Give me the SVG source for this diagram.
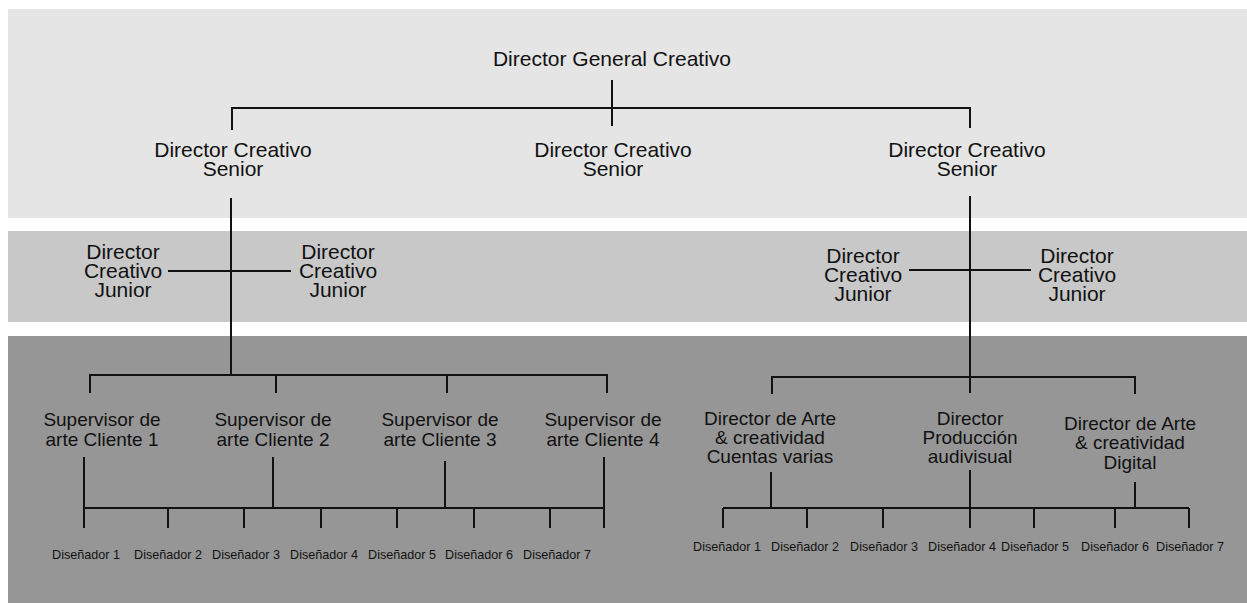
<svg xmlns="http://www.w3.org/2000/svg" width="1247" height="603" viewBox="0 0 1247 603">
<style>
text{font-family:"Liberation Sans",Arial,sans-serif;fill:#111;text-anchor:middle}
.t1{font-size:21px}
.t2{font-size:19px}
.t3{font-size:12.6px}
.ln{fill:none;stroke:#111;stroke-width:2}
</style>
<rect x="0" y="0" width="1247" height="603" fill="#ffffff"/>
<g id="bands">
<rect x="8" y="9" width="1239" height="209" fill="#e5e5e5"/>
<rect x="8" y="231" width="1239" height="91" fill="#c8c8c8"/>
<rect x="8" y="336" width="1239" height="267" fill="#969696"/>
</g>
<g id="connectors" class="ln">
<path d="M612 80V126"/>
<path d="M232 130V108H970V128"/>
<path d="M231 198V375"/>
<path d="M168 271H291"/>
<path d="M90 393V375H607V393M276 375V393M447 375V393"/>
<path d="M84 457V528M273 457V508M445 461V508M604 457V528M84 508H604"/>
<path d="M168 508V528M244 508V528M321 508V528M397 508V528M474 508V528M550 508V528"/>
<path d="M970 196V393"/>
<path d="M909 270H1031"/>
<path d="M772 394V377H1135V394"/>
<path d="M771 472V508M970 470V528M1135 482V508M723 508H1189"/>
<path d="M723 508V528M807 508V528M883 508V528M1034 508V528M1115 508V528M1189 508V528"/>
</g>
<g id="n-dgc"><text class="t1" x="612" y="66">Director General Creativo</text></g>
<g id="n-dcs1"><text class="t1" x="233" y="157">Director Creativo</text><text class="t1" x="233" y="176">Senior</text></g>
<g id="n-dcs2"><text class="t1" x="613" y="157">Director Creativo</text><text class="t1" x="613" y="176">Senior</text></g>
<g id="n-dcs3"><text class="t1" x="967" y="157">Director Creativo</text><text class="t1" x="967" y="176">Senior</text></g>
<g id="n-dcj1"><text class="t1" x="123" y="259">Director</text><text class="t1" x="123" y="278">Creativo</text><text class="t1" x="123" y="297">Junior</text></g>
<g id="n-dcj2"><text class="t1" x="338" y="259">Director</text><text class="t1" x="338" y="278">Creativo</text><text class="t1" x="338" y="297">Junior</text></g>
<g id="n-dcj3"><text class="t1" x="863" y="263">Director</text><text class="t1" x="863" y="282">Creativo</text><text class="t1" x="863" y="301">Junior</text></g>
<g id="n-dcj4"><text class="t1" x="1077" y="263">Director</text><text class="t1" x="1077" y="282">Creativo</text><text class="t1" x="1077" y="301">Junior</text></g>
<g id="n-sup1"><text class="t2" x="102" y="426">Supervisor de</text><text class="t2" x="102" y="446">arte Cliente 1</text></g>
<g id="n-sup2"><text class="t2" x="273" y="426">Supervisor de</text><text class="t2" x="273" y="446">arte Cliente 2</text></g>
<g id="n-sup3"><text class="t2" x="440" y="426">Supervisor de</text><text class="t2" x="440" y="446">arte Cliente 3</text></g>
<g id="n-sup4"><text class="t2" x="603" y="426">Supervisor de</text><text class="t2" x="603" y="446">arte Cliente 4</text></g>
<g id="n-da1"><text class="t2" x="770" y="425">Director de Arte</text><text class="t2" x="770" y="444">&amp; creatividad</text><text class="t2" x="770" y="463">Cuentas varias</text></g>
<g id="n-dpa"><text class="t2" x="970" y="425">Director</text><text class="t2" x="970" y="444">Producción</text><text class="t2" x="970" y="463">audivisual</text></g>
<g id="n-da2"><text class="t2" x="1130" y="430">Director de Arte</text><text class="t2" x="1130" y="449">&amp; creatividad</text><text class="t2" x="1130" y="469">Digital</text></g>
<g id="n-dis-left" class="t3">
<text class="t3" x="86" y="559">Diseñador 1</text>
<text class="t3" x="168" y="559">Diseñador 2</text>
<text class="t3" x="246" y="559">Diseñador 3</text>
<text class="t3" x="324" y="559">Diseñador 4</text>
<text class="t3" x="402" y="559">Diseñador 5</text>
<text class="t3" x="479" y="559">Diseñador 6</text>
<text class="t3" x="557" y="559">Diseñador 7</text>
</g>
<g id="n-dis-right">
<text class="t3" x="727" y="551">Diseñador 1</text>
<text class="t3" x="805" y="551">Diseñador 2</text>
<text class="t3" x="884" y="551">Diseñador 3</text>
<text class="t3" x="962" y="551">Diseñador 4</text>
<text class="t3" x="1035" y="551">Diseñador 5</text>
<text class="t3" x="1115" y="551">Diseñador 6</text>
<text class="t3" x="1190" y="551">Diseñador 7</text>
</g>
</svg>
